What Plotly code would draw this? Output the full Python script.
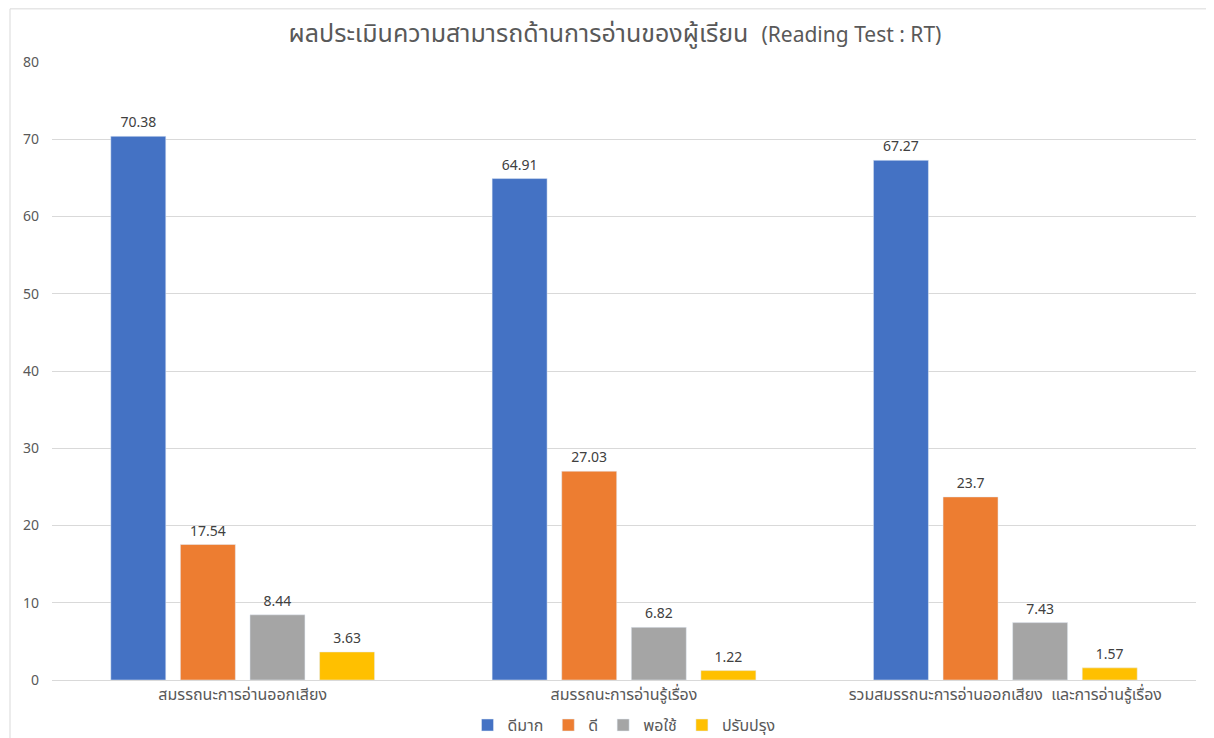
import plotly.graph_objects as go

categories = ["สมรรถนะการอ่านออกเสียง", "สมรรถนะการอ่านรู้เรื่อง", "รวมสมรรถนะการอ่านออกเสียง  และการอ่านรู้เรื่อง"]
series_names = ["ดีมาก", "ดี", "พอใช้", "ปรับปรุง"]
v_dimak = [70.38, 64.91, 67.27]
v_di = [17.54, 27.03, 23.7]
v_phochai = [8.44, 6.82, 7.43]
v_prapprung = [3.63, 1.22, 1.57]
colors = ["#4472C4", "#ED7D31", "#A5A5A5", "#FFC000"]
y_ticks = [0, 10, 20, 30, 40, 50, 60, 70, 80]
title_th = "ผลประเมินความสามารถด้านการอ่านของผู้เรียน"
title_en = "(Reading Test : RT)"

FONT = "Tahoma, 'Noto Sans Thai', 'Noto Sans', 'DejaVu Sans', sans-serif"

fig = go.Figure()
for name, vals, col in zip(series_names, [v_dimak, v_di, v_phochai, v_prapprung], colors):
    fig.add_trace(go.Bar(
        x=categories, y=vals, name=name, marker_color=col,
        text=[str(v) for v in vals], textposition="outside",
        textfont=dict(size=14, color="#404040", family=FONT),
        cliponaxis=False,
    ))

fig.update_layout(
    width=1214, height=738,
    margin=dict(l=44, r=26, t=54, b=66, autoexpand=False),
    paper_bgcolor="white", plot_bgcolor="white",
    font=dict(family=FONT, color="#595959", size=12),
    title=dict(text=title_th + '  <span style="font-size:21px">' + title_en + "</span>",
               x=0.5, xanchor="center", y=1 - 25 / 738, yanchor="middle",
               font=dict(size=25, color="#595959", family=FONT)),
    barmode="group", bargap=0.27, bargroupgap=0.21,
    legend=dict(orientation="h", x=0.5, xanchor="center", y=-0.073, yanchor="middle",
                font=dict(size=16, color="#595959"), itemwidth=30, traceorder="normal"),
    xaxis=dict(showline=True, linecolor="#D9D9D9", linewidth=1, ticks="", automargin=False,
               tickfont=dict(size=16, color="#595959")),
    yaxis=dict(range=[0, 80], tickvals=y_ticks, showgrid=True, gridcolor="#D9D9D9",
               zeroline=False, showline=False, ticks="", ticklabelstandoff=12, automargin=False,
               tickfont=dict(size=14, color="#595959")),
    shapes=[dict(type="rect", xref="paper", yref="paper",
                 x0=-0.0367, x1=1.0131, y0=-0.2, y1=1.086,
                 line=dict(color="#D9D9D9", width=1), fillcolor="rgba(0,0,0,0)", layer="below")],
)

fig.write_html("out.html")
